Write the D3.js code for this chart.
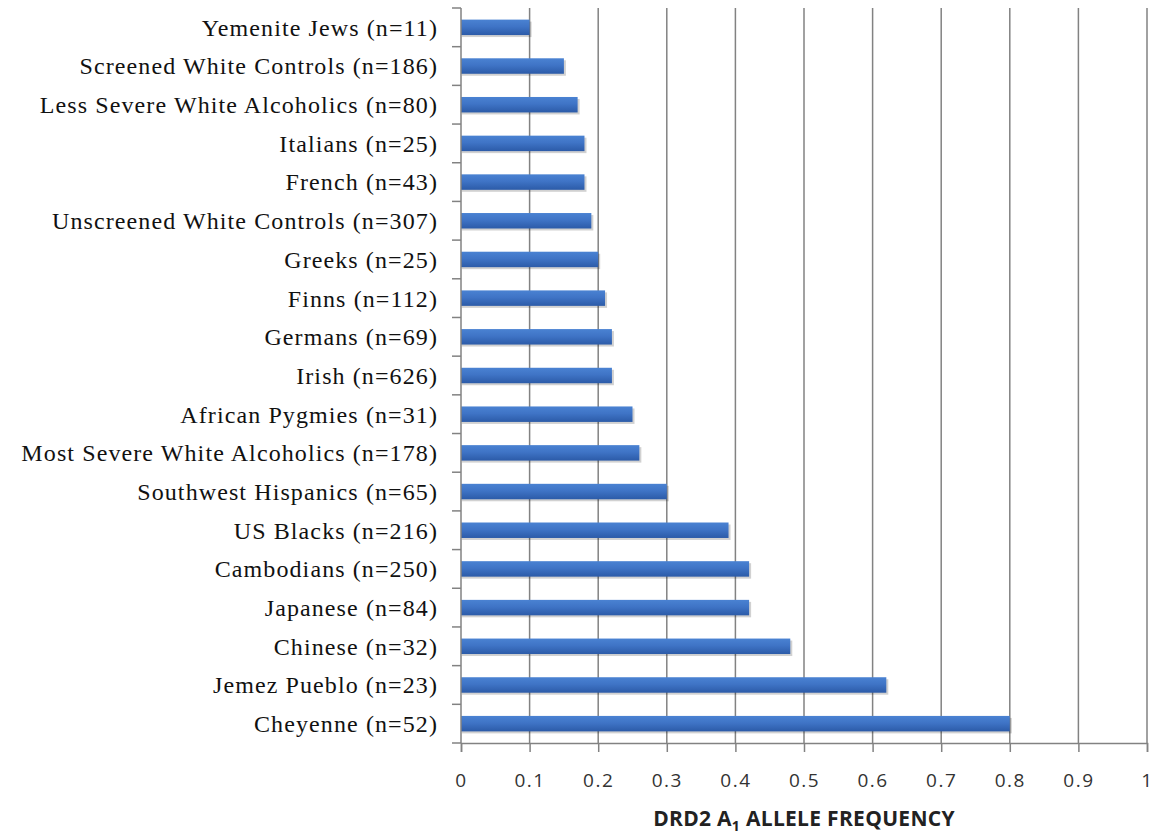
<!DOCTYPE html>
<html>
<head>
    <style>
        body { margin: 0; background: #fff; }
        .cat text { font-family: "Liberation Serif", "Times New Roman", serif; font-size: 24px; letter-spacing: 1.1px; fill: #111; }
        .xax text { font-family: "Open Sans", "DejaVu Sans", sans-serif; font-size: 19px; letter-spacing: 1.5px; fill: #333; }
    </style>
    <script src="https://cdn.jsdelivr.net/npm/d3@7/dist/d3.min.js"></script>
</head>
<body>
<div id="chart"></div>
<script>
    // Data (top to bottom)
    const groups = [
        "Yemenite Jews (n=11)", "Screened White Controls (n=186)", "Less Severe White Alcoholics (n=80)",
        "Italians (n=25)", "French (n=43)", "Unscreened White Controls (n=307)", "Greeks (n=25)",
        "Finns (n=112)", "Germans (n=69)", "Irish (n=626)", "African Pygmies (n=31)",
        "Most Severe White Alcoholics (n=178)", "Southwest Hispanics (n=65)", "US Blacks (n=216)",
        "Cambodians (n=250)", "Japanese (n=84)", "Chinese (n=32)", "Jemez Pueblo (n=23)", "Cheyenne (n=52)"
    ];
    const freq = [0.10, 0.15, 0.17, 0.18, 0.18, 0.19, 0.20, 0.21, 0.22, 0.22, 0.25, 0.26, 0.30, 0.39, 0.42, 0.42, 0.48, 0.62, 0.80];
    const xTicks = [0, 0.1, 0.2, 0.3, 0.4, 0.5, 0.6, 0.7, 0.8, 0.9, 1];

    const width = 1167, height = 838;
    const margin = { top: 8, right: 20, bottom: 95, left: 461 };

    const svg = d3.select("#chart").append("svg")
        .attr("width", width).attr("height", height);

    const defs = svg.append("defs");
    const grad = defs.append("linearGradient").attr("id", "barGrad")
        .attr("x1", 0).attr("y1", 0).attr("x2", 0).attr("y2", 1);
    grad.append("stop").attr("offset", "0%").attr("stop-color", "#4a82d2");
    grad.append("stop").attr("offset", "45%").attr("stop-color", "#3f74c6");
    grad.append("stop").attr("offset", "100%").attr("stop-color", "#2c5ba8");

    const x = d3.scaleLinear().domain([0, 1]).range([margin.left, width - margin.right]);
    const y = d3.scaleBand().domain(groups)
        .range([margin.top, height - margin.bottom])
        .paddingInner(0.6).paddingOuter(0.3);

    const bottom = height - margin.bottom;
    const axisColor = "#828282";

    // vertical gridlines
    svg.append("g").selectAll("line").data(xTicks.slice(1)).enter().append("line")
        .attr("x1", d => x(d)).attr("x2", d => x(d))
        .attr("y1", margin.top).attr("y2", bottom)
        .attr("stroke", axisColor).attr("stroke-width", 1.5);

    // bar shadows
    svg.append("g").selectAll("rect").data(freq).enter().append("rect")
        .attr("x", x(0) + 1)
        .attr("y", (d, i) => y(groups[i]) + 2)
        .attr("width", d => x(d) - x(0) + 1)
        .attr("height", y.bandwidth())
        .attr("fill", "#000").attr("opacity", 0.18);

    // bars
    svg.append("g").selectAll("rect").data(freq).enter().append("rect")
        .attr("x", x(0))
        .attr("y", (d, i) => y(groups[i]))
        .attr("width", d => x(d) - x(0))
        .attr("height", y.bandwidth())
        .attr("fill", "url(#barGrad)");

    // y axis with ticks on category boundaries
    const step = (bottom - margin.top) / groups.length;
    const yAxisG = svg.append("g");
    yAxisG.append("line")
        .attr("x1", x(0)).attr("x2", x(0)).attr("y1", margin.top).attr("y2", bottom)
        .attr("stroke", axisColor).attr("stroke-width", 1.5);
    yAxisG.selectAll(".bt").data(d3.range(groups.length + 1)).enter().append("line")
        .attr("x1", x(0) - 9).attr("x2", x(0))
        .attr("y1", i => margin.top + i * step).attr("y2", i => margin.top + i * step)
        .attr("stroke", axisColor).attr("stroke-width", 1.5);

    const cat = svg.append("g").attr("class", "cat");
    cat.selectAll("text").data(groups).enter().append("text")
        .attr("x", x(0) - 23)
        .attr("y", d => y(d) + y.bandwidth() / 2)
        .attr("dy", "0.35em")
        .attr("text-anchor", "end")
        .text(d => d);

    // x axis
    const xAxis = svg.append("g").attr("class", "xax")
        .attr("transform", `translate(0,${bottom})`)
        .call(d3.axisBottom(x).tickValues(xTicks).tickFormat(d3.format("")).tickSize(9).tickPadding(22));
    xAxis.select(".domain").attr("stroke", axisColor).attr("stroke-width", 1.5);
    xAxis.selectAll(".tick line").attr("stroke", axisColor).attr("stroke-width", 1.5);
    xAxis.selectAll("text").attr("font-family", null).attr("font-size", null);

    const title = svg.append("text")
        .attr("x", 804).attr("y", 826)
        .attr("text-anchor", "middle")
        .attr("font-family", "'Open Sans', 'DejaVu Sans', sans-serif")
        .attr("font-weight", "bold").attr("font-size", 21).attr("fill", "#222")
        .attr("letter-spacing", 0.3);
    title.append("tspan").text("DRD2 A");
    title.append("tspan").attr("font-size", 14).attr("dy", 5).text("1");
    title.append("tspan").attr("dy", -5).text(" ALLELE FREQUENCY");
</script>
</body>
</html>
